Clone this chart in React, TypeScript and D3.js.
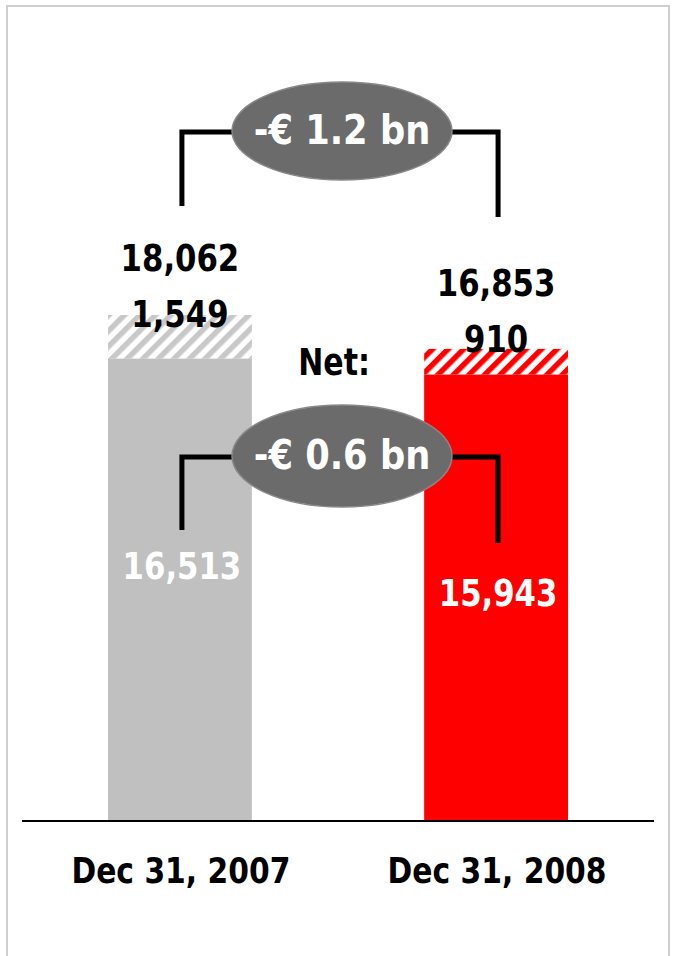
import React from "react";
import * as d3 from "d3";

const categories = ["Dec 31, 2007", "Dec 31, 2008"];
const netValues = [16513, 15943];
const extraValues = [1549, 910];
const totalValues = [18062, 16853];
const diffLabels = ["-€ 1.2 bn", "-€ 0.6 bn"];
const netLabel = "Net:";

const W = 674;
const H = 956;
const FONT = "'DejaVu Sans Condensed', 'DejaVu Sans', sans-serif";
const solidColors = ["#c0c0c0", "#ff0000"];
const netTextColor = "#ffffff";
const netLabelOffsets = [221, 232];

const fmt = d3.format(",");

function SText({ x, y, size, sx = 0.9, fill = "#000", anchor = "middle", children }: any) {
  return (
    <g transform={`translate(${x},${y}) scale(${sx},1)`}>
      <text
        textAnchor={anchor}
        fontFamily={FONT}
        fontWeight="bold"
        fontSize={size}
        fill={fill}
      >
        {children}
      </text>
    </g>
  );
}

export default function App() {
  const x = d3
    .scaleBand<string>()
    .domain(categories)
    .range([22, 654])
    .paddingInner(0.545)
    .paddingOuter(0.272);
  const y = d3.scaleLinear().domain([0, 18062]).range([821, 315]);
  const bw = x.bandwidth();
  const cx = (i: number) => (x(categories[i]) as number) + bw / 2;

  const midX = (cx(0) + cx(1)) / 2 + 4;
  const brackets = [
    { top: 132, leftEnd: 206, rightEnd: 217, cy: 131, ry: 49 },
    { top: 457, leftEnd: 530, rightEnd: 543, cy: 456, ry: 51 },
  ];

  return (
    <svg
      width={W}
      height={H}
      style={{ position: "absolute", left: 0, top: 0, background: "#fff" }}
    >
      <defs>
        <pattern
          id="hatch0"
          patternUnits="userSpaceOnUse"
          width={11}
          height={11}
          patternTransform="rotate(45)"
        >
          <rect width={11} height={11} fill="#ffffff" />
          <rect width={5.5} height={11} fill="#c8c8c8" />
        </pattern>
        <pattern
          id="hatch1"
          patternUnits="userSpaceOnUse"
          width={11}
          height={11}
          patternTransform="rotate(45)"
        >
          <rect width={11} height={11} fill="#ffffff" />
          <rect width={5.5} height={11} fill="#ff0000" />
        </pattern>
      </defs>

      <rect x={7} y={6} width={662} height={H + 10} fill="#fff" stroke="#cfcfcf" strokeWidth={2} />

      {categories.map((c, i) => {
        const x0 = x(c) as number;
        const yNet = y(netValues[i]);
        const yTot = y(netValues[i] + extraValues[i]);
        const hatchMid = (yNet + yTot) / 2;
        const extraBase = hatchMid - 10;
        const totalBase = extraBase - 56;
        const netBase = yNet + netLabelOffsets[i];
        return (
          <g key={c}>
            <rect x={x0} y={yNet} width={bw} height={y(0) - yNet} fill={solidColors[i]} />
            <rect x={x0} y={yTot} width={bw} height={yNet - yTot} fill={`url(#hatch${i})`} />
            <SText x={cx(i)} y={totalBase} size={38}>
              {fmt(totalValues[i])}
            </SText>
            <SText x={cx(i)} y={extraBase} size={38}>
              {fmt(extraValues[i])}
            </SText>
            <SText x={cx(i) + 2} y={netBase} size={38} fill={netTextColor}>
              {fmt(netValues[i])}
            </SText>
            <SText x={cx(i) + 1} y={883} size={36} sx={0.92}>
              {c}
            </SText>
          </g>
        );
      })}

      <line x1={22} x2={654} y1={y(0)} y2={y(0)} stroke="#000" strokeWidth={2} />

      <SText x={370} y={375} size={37} anchor="end">
        {netLabel}
      </SText>

      {brackets.map((b, i) => (
        <g key={i}>
          <path
            d={`M${cx(0) + 2},${b.leftEnd} V${b.top} H${cx(1) + 2} V${b.rightEnd}`}
            fill="none"
            stroke="#000"
            strokeWidth={5}
          />
          <ellipse cx={midX} cy={b.cy} rx={110} ry={b.ry} fill="#6b6b6b" stroke="#888" strokeWidth={1.5} />
          <SText x={midX} y={b.cy + 13} size={40} sx={0.98} fill="#fff">
            {diffLabels[i]}
          </SText>
        </g>
      ))}
    </svg>
  );
}
